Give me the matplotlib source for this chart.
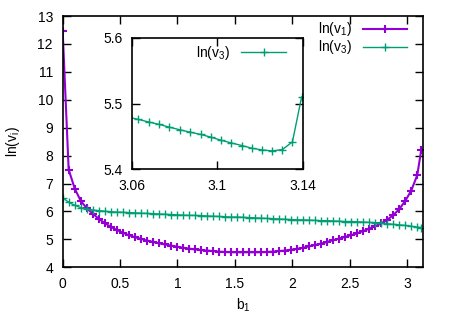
import matplotlib
matplotlib.use('agg')
import matplotlib.pyplot as plt

plt.rcParams['font.family'] = ['Liberation Sans', 'DejaVu Sans']
plt.rcParams['mathtext.fontset'] = 'custom'
plt.rcParams['mathtext.rm'] = 'Liberation Sans'
plt.rcParams['mathtext.it'] = 'Liberation Sans:italic'
plt.rcParams['mathtext.bf'] = 'Liberation Sans:bold'

# main curves, b1 on a 3 degree grid (last point near pi)
b1 = [0.000, 0.052, 0.105, 0.157, 0.209, 0.262, 0.314, 0.367, 0.419, 0.471,
      0.524, 0.576, 0.628, 0.681, 0.733, 0.785, 0.838, 0.890, 0.942, 0.995,
      1.047, 1.100, 1.152, 1.204, 1.257, 1.309, 1.361, 1.414, 1.466, 1.518,
      1.571, 1.623, 1.676, 1.728, 1.780, 1.833, 1.885, 1.937, 1.990, 2.042,
      2.094, 2.147, 2.199, 2.251, 2.304, 2.356, 2.409, 2.461, 2.513, 2.566,
      2.618, 2.670, 2.723, 2.775, 2.827, 2.880, 2.932, 2.985, 3.037, 3.089,
      3.124]
ln_v1 = [12.45, 7.50, 6.82, 6.38, 6.12, 5.92, 5.74, 5.58, 5.45, 5.34,
         5.24, 5.15, 5.08, 5.02, 4.96, 4.91, 4.86, 4.82, 4.78, 4.74,
         4.70, 4.67, 4.64, 4.62, 4.60, 4.58, 4.56, 4.55, 4.54, 4.54,
         4.54, 4.54, 4.54, 4.54, 4.55, 4.56, 4.58, 4.60, 4.63, 4.66,
         4.70, 4.75, 4.80, 4.85, 4.91, 4.97, 5.03, 5.09, 5.15, 5.22,
         5.30, 5.38, 5.47, 5.57, 5.70, 5.87, 6.08, 6.38, 6.75, 7.30,
         8.20]
ln_v3 = [6.49, 6.33, 6.22, 6.14, 6.09, 6.05, 6.03, 6.01, 5.99, 5.98,
         5.97, 5.96, 5.95, 5.94, 5.93, 5.92, 5.91, 5.90, 5.89, 5.88,
         5.87, 5.86, 5.86, 5.85, 5.84, 5.83, 5.82, 5.81, 5.80, 5.80,
         5.79, 5.78, 5.77, 5.76, 5.75, 5.74, 5.73, 5.72, 5.71, 5.70,
         5.70, 5.69, 5.68, 5.67, 5.67, 5.66, 5.65, 5.64, 5.64, 5.63,
         5.62, 5.61, 5.60, 5.58, 5.56, 5.54, 5.52, 5.50, 5.47, 5.44,
         5.42]

# zoomed v3 near pi
b1_zoom = [3.0582, 3.0630, 3.0681, 3.0728, 3.0775, 3.0825, 3.0872, 3.0922,
           3.0969, 3.1016, 3.1064, 3.1116, 3.1162, 3.1209, 3.1256, 3.1305,
           3.1352, 3.1395]
ln_v3_zoom = [5.4793, 5.4758, 5.4717, 5.4682, 5.4641, 5.4600, 5.4565, 5.4530,
              5.4489, 5.4443, 5.4402, 5.4361, 5.4320, 5.4295, 5.4280, 5.4300,
              5.4417, 5.5099]

purple = '#9400d3'
green = '#009e73'
fs = 10

fig = plt.figure(figsize=(4.5, 3.15), dpi=100)
ax = fig.add_axes([0.1393, 0.1514, 0.8013, 0.7978])
ax.plot(b1, ln_v1, '-', color=purple, lw=1.5, marker='+', ms=6, mew=1.5,
        label=r'ln(v$_1$)')
ax.plot(b1, ln_v3, '-', color=green, lw=1.0, marker='+', ms=6, mew=1.0,
        label=r'ln(v$_3$)')
ax.set_xlim(0, 3.1416)
ax.set_ylim(4, 13)
ax.set_xticks([0, 0.5, 1, 1.5, 2, 2.5, 3])
ax.set_xticklabels(['0', '0.5', '1', '1.5', '2', '2.5', '3'])
ax.set_yticks(range(4, 14))
ax.tick_params(direction='in', length=6, width=1, top=True, right=True,
               labelsize=fs, pad=7)
for s in ax.spines.values():
    s.set_linewidth(1.2)
ax.set_xlabel(r'b$_1$', fontsize=fs, labelpad=4)
ax.set_ylabel(r'ln(v$_\mathrm{i}$)', fontsize=fs, labelpad=11)
ax.legend(loc='upper right', bbox_to_anchor=(0.905, 0.935),
          bbox_transform=fig.transFigure, frameon=False, markerfirst=False,
          fontsize=fs, handlelength=3.2, borderaxespad=0, borderpad=0,
          labelspacing=0.0, handletextpad=0.8)

ins = fig.add_axes([0.2933, 0.4625, 0.3793, 0.4178])
ins.plot(b1_zoom, ln_v3_zoom, '-', color=green, lw=1.0, marker='+', ms=6,
         mew=1.0, label=r'ln(v$_3$)')
ins.set_xlim(3.06, 3.14)
ins.set_ylim(5.4, 5.6)
ins.set_xticks([3.06, 3.1, 3.14])
ins.set_xticklabels(['3.06', '3.1', '3.14'])
ins.set_yticks([5.4, 5.5, 5.6])
ins.set_yticklabels(['5.4', '5.5', '5.6'])
ins.tick_params(direction='in', length=6, width=1, top=True, right=True,
                labelsize=fs, pad=7)
for s in ins.spines.values():
    s.set_linewidth(1.2)
ins.legend(loc='upper right', bbox_to_anchor=(0.635, 0.86),
           bbox_transform=fig.transFigure, frameon=False, markerfirst=False,
           fontsize=fs, handlelength=3.2, borderaxespad=0, borderpad=0,
           handletextpad=0.8)

fig.savefig('out.png', dpi=100)
